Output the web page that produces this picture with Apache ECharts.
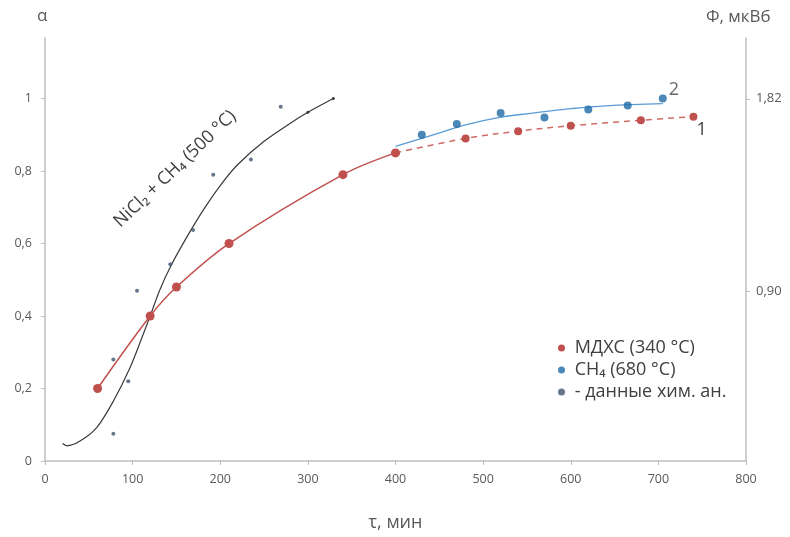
<!DOCTYPE html>
<html><head><meta charset="utf-8">
<script src="https://cdn.jsdelivr.net/npm/echarts@6/dist/echarts.min.js"></script>
<style>html,body{margin:0;padding:0;background:#fff}#c{width:790px;height:537px}</style>
</head><body><div id="c"></div>
<script>
// ---- data ----
const xTicks = [0, 100, 200, 300, 400, 500, 600, 700, 800];
const alphaTicks = [0, 0.2, 0.4, 0.6, 0.8, 1];
const phiTicks = [0.90, 1.82];

const redX = [60, 120, 150, 210, 340, 400];
const redY = [0.20, 0.40, 0.48, 0.60, 0.79, 0.85];
const redDashX = [400, 480, 540, 600, 680, 740];
const redDashY = [0.85, 0.89, 0.91, 0.925, 0.94, 0.95];

const blueX = [430, 470, 520, 570, 620, 665, 705];
const blueY = [0.90, 0.93, 0.96, 0.948, 0.97, 0.981, 1.00];
const blueLineX = [400, 443, 481, 519, 557, 600, 640, 705];
const blueLineY = [0.868, 0.900, 0.928, 0.948, 0.960, 0.972, 0.980, 0.986];

const blackX = [20, 25, 40, 59, 78, 97, 112, 120, 131, 144, 160, 180, 200, 220, 250, 280, 300, 329];
const blackY = [0.048, 0.042, 0.055, 0.092, 0.165, 0.257, 0.349, 0.400, 0.472, 0.540, 0.610, 0.690, 0.760, 0.818, 0.882, 0.932, 0.962, 1.0];

const chemX = [78, 78, 95, 105, 143, 169, 192, 235, 269];
const chemY = [0.28, 0.075, 0.22, 0.47, 0.543, 0.637, 0.79, 0.832, 0.977];

const names = ['МДХС (340 °С)', 'CH\u2084 (680 °С)', '- данные хим. ан.'];
const curveLabel = 'NiCl\u2082 + CH\u2084 (500 °C)';
const xName = 'τ, мин', leftName = 'α', rightName = 'Ф, мкВб';

// ---- chart ----
const pairs = (xs, ys) => xs.map((x, i) => [x, ys[i]]);
const FONT = '"Open Sans", "Noto Sans", sans-serif';
const RED = '#c0504d', BLUE = '#1f6aa5', BLUELINE = '#5b9bd5', DARK = '#404040', AX = '#bfbfbf', LBL = '#595959';
const comma = v => String(+v.toFixed(2)).replace('.', ',');

const chart = echarts.init(document.getElementById('c'));
const blackData = pairs(blackX, blackY).map((p, i, a) => i >= a.length - 2 ? {value: p, symbol: 'circle', symbolSize: 3} : {value: p});
const blueData = pairs(blueX, blueY).map((p, i, a) => i === a.length - 1 ? {value: p, label: {show: true, formatter: '2', position: [10, -14], fontSize: 18, color: DARK, fontFamily: FONT}} : p);
const redDashData = pairs(redDashX, redDashY).map((p, i, a) => i === a.length - 1 ? {value: p, label: {show: true, formatter: '1', position: [7, 8], fontSize: 18, color: DARK, fontFamily: FONT}} : p);

chart.setOption({
  animation: false,
  backgroundColor: '#fff',
  textStyle: {fontFamily: FONT},
  grid: {left: 45, right: 44, top: 38, bottom: 76, containLabel: false},
  xAxis: {
    type: 'value', min: xTicks[0], max: xTicks[xTicks.length - 1], interval: 100,
    name: xName, nameLocation: 'middle', nameGap: 53,
    nameTextStyle: {fontSize: 18, color: LBL, fontFamily: FONT},
    axisLine: {lineStyle: {color: AX, width: 1.5}},
    axisTick: {show: true, inside: false, length: 4, lineStyle: {color: AX}},
    axisLabel: {color: LBL, fontSize: 12.5, margin: 12, fontFamily: FONT},
    splitLine: {show: false}
  },
  yAxis: [{
    type: 'value', min: 0, max: 1.167, position: 'left',
    axisLine: {show: true, lineStyle: {color: AX, width: 1.5}},
    axisTick: {show: true, length: 4, lineStyle: {color: AX}, customValues: alphaTicks},
    axisLabel: {color: LBL, fontSize: 12.5, margin: 13, fontFamily: FONT, customValues: alphaTicks, formatter: comma},
    splitLine: {show: false}
  }, {
    type: 'value', min: 0.085, max: 2.111, position: 'right',
    axisLine: {show: true, lineStyle: {color: AX, width: 1.5}},
    axisTick: {show: true, length: 4, lineStyle: {color: AX}, customValues: phiTicks},
    axisLabel: {color: LBL, fontSize: 13, margin: 10, fontFamily: FONT, customValues: phiTicks, formatter: v => v.toFixed(2).replace('.', ',')},
    splitLine: {show: false}
  }],
  legend: {
    orient: 'vertical', left: 553, top: 333, itemWidth: 7, itemHeight: 7, itemGap: 2,
    icon: 'circle',
    data: names,
    formatter: n => ' ' + n,
    textStyle: {fontSize: 18, color: DARK, fontFamily: FONT, lineHeight: 20}
  },
  graphic: [
    {type: 'text', x: 37, y: 8, style: {text: leftName, font: '17px ' + FONT, fill: LBL}},
    {type: 'text', x: 706, y: 9, style: {text: rightName, font: '17px ' + FONT, fill: LBL}},
    {type: 'text', x: 175, y: 169, rotation: 0.76, style: {text: curveLabel, font: '18px ' + FONT, fill: DARK, align: 'center', verticalAlign: 'middle'}}
  ],
  series: [
    {name: 'black', type: 'line', data: blackData, smooth: 0.3, symbol: 'none', showSymbol: true,
      lineStyle: {color: '#3a3a3a', width: 1.2}, itemStyle: {color: '#3a3a3a'}, z: 2},
    {name: names[0], type: 'line', data: pairs(redX, redY), smooth: 0.35, symbol: 'circle', symbolSize: 9,
      lineStyle: {color: RED, width: 1.5}, itemStyle: {color: RED}, z: 3},
    {name: 'redDash', type: 'line', data: redDashData, smooth: 0.35, symbol: 'circle', symbolSize: 8,
      lineStyle: {color: '#d06a66', width: 1.5, type: [6, 5]}, itemStyle: {color: RED}, z: 3},
    {name: 'blueLine', type: 'line', data: pairs(blueLineX, blueLineY), smooth: 0.4, symbol: 'none',
      lineStyle: {color: BLUELINE, width: 1.3}, z: 2},
    {name: names[1], type: 'scatter', data: blueData, symbol: 'circle', symbolSize: 8,
      itemStyle: {color: BLUE}, z: 4},
    {name: names[2], type: 'scatter', data: pairs(chemX, chemY), symbol: 'circle', symbolSize: 4,
      itemStyle: {color: '#3e5470'}, z: 4}
  ]
});
</script>
</body></html>
